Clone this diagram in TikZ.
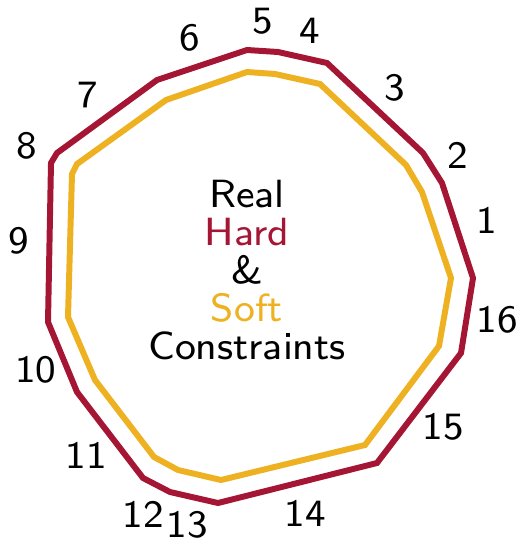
\documentclass[tikz,border=0pt]{standalone}
\definecolor{hardred}{RGB}{164,22,52}
\definecolor{softgold}{RGB}{238,177,34}

\begin{document}
\begin{tikzpicture}[x=0.02cm,y=-0.02cm,
  hardline/.style={hardred,line width=3.4pt},
  softline/.style={softgold,line width=3.4pt},
  edgelabel/.style={font=\sffamily\fontsize{8}{9}\selectfont,scale=2.75,inner sep=0pt}]
\useasboundingbox (0,0) rectangle (520,541);
\draw[hardline] (473,278) -- (442,183) -- (423,153) -- (327,63) -- (278,52) -- (247,50) -- (157,80) -- (57,153)
  -- (51,163) -- (48,322) -- (77,392) -- (143,478) -- (170,492) -- (218,503) -- (377,463) -- (461,353) -- cycle;
\draw[softline] (451,278) -- (422,192) -- (406,165) -- (320,84) -- (275,74) -- (247,72) -- (166,100) -- (77,164)
  -- (72,174) -- (68,317) -- (95,380) -- (154,457) -- (178,470) -- (221,480) -- (365,445) -- (439,346) -- cycle;
\node[edgelabel] (l1) at (487,220) {1};
\node[edgelabel] (l2) at (458,155) {2};
\node[edgelabel] (l3) at (395,88) {3};
\node[edgelabel] (l4) at (310,31) {4};
\node[edgelabel] (l5) at (263,21) {5};
\node[edgelabel] (l6) at (190,38) {6};
\node[edgelabel] (l7) at (88,95) {7};
\node[edgelabel] (l8) at (27,146) {8};
\node[edgelabel] (l9) at (19,241) {9};
\node[edgelabel] (l10) at (36,370) {10};
\node[edgelabel] (l11) at (86,455) {11};
\node[edgelabel] (l12) at (143,514) {12};
\node[edgelabel] (l13) at (187,525) {13};
\node[edgelabel] (l14) at (305,513) {14};
\node[edgelabel] (l15) at (443,427) {15};
\node[edgelabel] (l16) at (497,320) {16};
\node[align=center,inner sep=0pt,font=\sffamily\fontsize{8}{7.75}\selectfont,scale=2.8] (title) at (247,270)
  {Real\\\textcolor{hardred}{Hard}\\\&\\\textcolor{softgold}{Soft}\\Constraints};
\end{tikzpicture}
\end{document}
